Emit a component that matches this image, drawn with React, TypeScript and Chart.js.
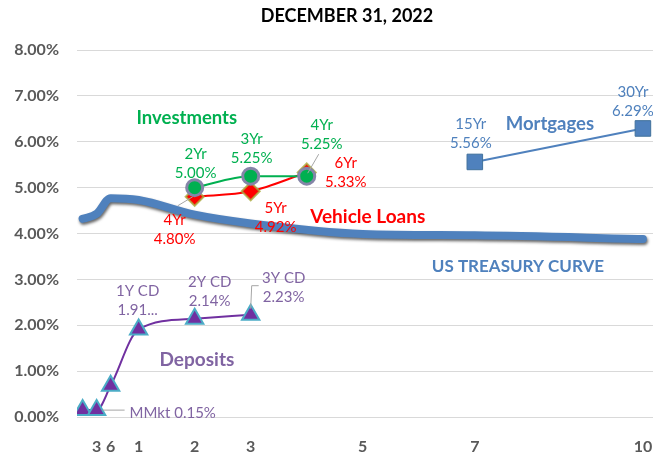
import React, { useEffect, useRef } from 'react';
import { Chart, registerables } from 'chart.js';

Chart.register(...registerables);

const TITLE = 'DECEMBER 31, 2022';

// US Treasury curve (maturity in years, yield %)
const treasuryMaturities = [0, 0.25, 0.5, 1, 2, 3, 5, 7, 10];
const treasuryYields = [4.32, 4.43, 4.77, 4.73, 4.41, 4.22, 3.99, 3.96, 3.88];

// Deposits
const depositTerms = [0, 0.25, 0.5, 1, 2, 3];
const depositRates = [0.15, 0.15, 0.68, 1.91, 2.14, 2.23];
const depositNames = ['', 'MMkt', '', '1Y CD', '2Y CD', '3Y CD'];
const depositValueText = ['', '0.15%', '', '1.91...', '2.14%', '2.23%'];

// Investments
const investmentTerms = [2, 3, 4];
const investmentRates = [5.0, 5.25, 5.25];
const investmentNames = ['2Yr', '3Yr', '4Yr'];

// Vehicle loans
const vehicleTerms = [2, 3, 4];
const vehicleRates = [4.8, 4.92, 5.33];
const vehicleNames = ['4Yr', '5Yr', '6Yr'];

// Mortgages
const mortgageTerms = [7, 10];
const mortgageRates = [5.56, 6.29];
const mortgageNames = ['15Yr', '30Yr'];

// X axis ticks
const xTickValues = [0.25, 0.5, 1, 2, 3, 5, 7, 10];
const xTickLabels = ['3', '6', '1', '2', '3', '5', '7', '10'];

const FONT = 'Lato, "Open Sans", sans-serif';

const pct = (v: number) => v.toFixed(2) + '%';
const pts = (xs: number[], ys: number[]) => xs.map((x, i) => ({ x, y: ys[i] }));

type Note = {
  ds: number;
  idx: number;
  lines: string[];
  color: string;
  dx: number;
  dy: number;
  align?: CanvasTextAlign;
  leader?: number[][];
};

// dataset indexes
const DS_TREASURY = 0;
const DS_DEPOSITS = 1;
const DS_INVEST = 2;
const DS_VEHICLE = 3;
const DS_MORTGAGE = 4;

const GREEN = '#00B050';
const RED = '#FF0000';
const PURPLE_TXT = '#8064A2';
const BLUE = '#4F81BD';

const notes: Note[] = [
  { ds: DS_INVEST, idx: 0, lines: [investmentNames[0], pct(investmentRates[0])], color: GREEN, dx: 1, dy: -33 },
  { ds: DS_INVEST, idx: 1, lines: [investmentNames[1], pct(investmentRates[1])], color: GREEN, dx: 1, dy: -37 },
  { ds: DS_INVEST, idx: 2, lines: [investmentNames[2], pct(investmentRates[2])], color: GREEN, dx: 15, dy: -51, leader: [[1, -3], [12, -22]] },
  { ds: DS_VEHICLE, idx: 0, lines: [vehicleNames[0], pct(vehicleRates[0])], color: RED, dx: -20, dy: 23, leader: [[-17, 9], [-2, 0]] },
  { ds: DS_VEHICLE, idx: 1, lines: [vehicleNames[1], pct(vehicleRates[1])], color: RED, dx: 25, dy: 17 },
  { ds: DS_VEHICLE, idx: 2, lines: [vehicleNames[2], pct(vehicleRates[2])], color: RED, dx: 39, dy: -9 },
  { ds: DS_MORTGAGE, idx: 0, lines: [mortgageNames[0], pct(mortgageRates[0])], color: BLUE, dx: -4, dy: -38 },
  { ds: DS_MORTGAGE, idx: 1, lines: [mortgageNames[1], pct(mortgageRates[1])], color: BLUE, dx: -10, dy: -36 },
  { ds: DS_DEPOSITS, idx: 3, lines: [depositNames[3], depositValueText[3]], color: PURPLE_TXT, dx: -1, dy: -38 },
  { ds: DS_DEPOSITS, idx: 4, lines: [depositNames[4], depositValueText[4]], color: PURPLE_TXT, dx: 15, dy: -37 },
  { ds: DS_DEPOSITS, idx: 5, lines: [depositNames[5], depositValueText[5]], color: PURPLE_TXT, dx: 33, dy: -37, leader: [[0, -6], [1, -29], [8, -29]] },
  { ds: DS_DEPOSITS, idx: 1, lines: [depositNames[1] + ' ' + depositValueText[1]], color: PURPLE_TXT, dx: 33, dy: 3, align: 'left', leader: [[6, 0], [28, 0]] },
];

// Series name captions, anchored in data coordinates
const captionText = ['Investments', 'Vehicle Loans', 'Mortgages', 'US TREASURY CURVE', 'Deposits'];
const captionX = [1.86, 5.09, 8.34, 7.77, 2.04];
const captionY = [6.51, 4.36, 6.38, 3.29, 1.24];
const captionColor = [GREEN, RED, BLUE, BLUE, PURPLE_TXT];
const captionSize = [18.5, 19, 18.5, 17, 19];

const notesPlugin = {
  id: 'notes',
  afterDatasetsDraw(chart: any) {
    const ctx: CanvasRenderingContext2D = chart.ctx;
    const xs = chart.scales.x;
    const ys = chart.scales.y;
    ctx.save();
    for (const n of notes) {
      const p = chart.data.datasets[n.ds].data[n.idx] as any;
      const px = xs.getPixelForValue(p.x);
      const py = ys.getPixelForValue(p.y);
      if (n.leader) {
        ctx.strokeStyle = '#A6A6A6';
        ctx.lineWidth = 1;
        ctx.beginPath();
        n.leader.forEach(([lx, ly], i) => {
          if (i === 0) ctx.moveTo(px + lx, py + ly);
          else ctx.lineTo(px + lx, py + ly);
        });
        ctx.stroke();
      }
      ctx.font = `15px ${FONT}`;
      ctx.fillStyle = n.color;
      ctx.textAlign = n.align || 'center';
      ctx.textBaseline = 'middle';
      n.lines.forEach((t, i) => {
        ctx.fillText(t, px + n.dx, py + n.dy + i * 19);
      });
    }
    captionText.forEach((t, i) => {
      ctx.font = `bold ${captionSize[i]}px ${FONT}`;
      ctx.fillStyle = captionColor[i];
      ctx.textAlign = 'center';
      ctx.textBaseline = 'middle';
      ctx.fillText(t, xs.getPixelForValue(captionX[i]), ys.getPixelForValue(captionY[i]));
    });
    ctx.font = `bold 18px ${FONT}`;
    ctx.fillStyle = '#000000';
    ctx.textAlign = 'center';
    ctx.textBaseline = 'middle';
    ctx.fillText(TITLE, 347, 16);
    ctx.restore();
  },
};

const shadowPlugin = {
  id: 'lineShadow',
  beforeDatasetDraw(chart: any, args: any) {
    if (args.index === DS_TREASURY) {
      const ctx = chart.ctx;
      ctx.save();
      ctx.shadowColor = 'rgba(0,0,0,0.6)';
      ctx.shadowBlur = 3;
      ctx.shadowOffsetX = 1;
      ctx.shadowOffsetY = 2;
    }
  },
  afterDatasetDraw(chart: any, args: any) {
    if (args.index === DS_TREASURY) chart.ctx.restore();
  },
};

export default function App() {
  const ref = useRef<HTMLCanvasElement>(null);
  useEffect(() => {
    document.body.style.margin = '0';
    const chart = new Chart(ref.current as HTMLCanvasElement, {
      type: 'scatter',
      data: {
        datasets: [
          {
            label: 'US Treasury',
            data: pts(treasuryMaturities, treasuryYields),
            showLine: true,
            borderColor: BLUE,
            borderWidth: 8,
            pointRadius: 0,
            cubicInterpolationMode: 'monotone',
            borderCapStyle: 'round',
            borderJoinStyle: 'round',
            order: 10,
          } as any,
          {
            label: 'Deposits',
            data: pts(depositTerms, depositRates),
            showLine: true,
            borderColor: '#7030A0',
            borderWidth: 2,
            pointStyle: 'triangle',
            pointRadius: 10,
            pointBackgroundColor: '#7030A0',
            pointBorderColor: '#4BACC6',
            pointBorderWidth: 2,
            cubicInterpolationMode: 'monotone',
            order: 1,
          } as any,
          {
            label: 'Investments',
            data: pts(investmentTerms, investmentRates),
            showLine: true,
            borderColor: GREEN,
            borderWidth: 2,
            pointStyle: 'circle',
            pointRadius: 8,
            pointBackgroundColor: GREEN,
            pointBorderColor: '#8585A8',
            pointBorderWidth: 3,
            cubicInterpolationMode: 'monotone',
            order: 2,
          } as any,
          {
            label: 'Vehicle Loans',
            data: pts(vehicleTerms, vehicleRates),
            showLine: true,
            borderColor: RED,
            borderWidth: 2,
            pointStyle: 'rectRot',
            pointRadius: 9,
            pointBackgroundColor: RED,
            pointBorderColor: 'rgba(170,170,60,0.8)',
            pointBorderWidth: 2,
            cubicInterpolationMode: 'monotone',
            order: 3,
          } as any,
          {
            label: 'Mortgages',
            data: pts(mortgageTerms, mortgageRates),
            showLine: true,
            borderColor: BLUE,
            borderWidth: 2,
            pointStyle: 'rect',
            pointRadius: 11,
            pointBackgroundColor: BLUE,
            pointBorderColor: '#41719C',
            pointBorderWidth: 1,
            order: 4,
          } as any,
        ],
      },
      options: {
        responsive: false,
        animation: false,
        layout: { autoPadding: false, padding: { top: 50, left: 0, right: 0, bottom: 0 } },
        plugins: {
          legend: { display: false },
          tooltip: { enabled: false },
          title: { display: false },
        },
        scales: {
          x: {
            type: 'linear',
            min: -0.1,
            max: 10.18,
            grid: { display: false },
            border: { display: false },
            afterBuildTicks: (scale: any) => {
              scale.ticks = xTickValues.map((v) => ({ value: v }));
            },
            afterFit: (scale: any) => {
              scale.height = 38;
              scale.paddingRight = 0;
              scale.paddingLeft = 0;
            },
            ticks: {
              autoSkip: false,
              maxRotation: 0,
              padding: 12,
              color: '#595959',
              font: { family: FONT, size: 16, weight: 'bold' },
              callback: (v: any) => {
                const i = xTickValues.indexOf(Number(v));
                return i >= 0 ? xTickLabels[i] : '';
              },
            },
          },
          y: {
            min: 0,
            max: 8,
            grid: { color: '#D9D9D9', lineWidth: 1, drawTicks: false },
            border: { display: false },
            afterFit: (scale: any) => {
              scale.width = 77;
            },
            ticks: {
              stepSize: 1,
              padding: 18,
              color: '#595959',
              font: { family: FONT, size: 16, weight: 'bold' },
              callback: (v: any) => Number(v).toFixed(2) + '%',
            },
          },
        },
      } as any,
      plugins: [shadowPlugin, notesPlugin],
    });
    return () => chart.destroy();
  }, []);
  return <canvas ref={ref} width={653} height={455} style={{ display: 'block' }} />;
}
